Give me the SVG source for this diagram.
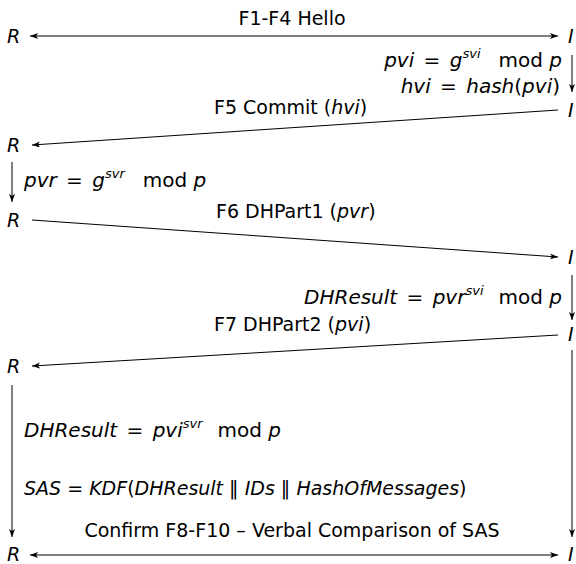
<svg xmlns="http://www.w3.org/2000/svg" width="576" height="564" viewBox="0 0 576 564">
<style>
text { font-family: "DejaVu Sans", "Open Sans", sans-serif; font-size: 19px; fill: #000; }
.m { font-size: 20px; }
.i { font-style: italic; }
.s { font-size: 13px; font-style: italic; }
.c line { stroke: #000; stroke-width: 1; fill: none; }
</style>
<defs>
<marker id="ah" markerWidth="9" markerHeight="7" refX="8" refY="3" orient="auto-start-reverse" markerUnits="userSpaceOnUse">
<path d="M0,0 L8,3 L0,6 L2,3 z" fill="#000"/>
</marker>
</defs>
<rect width="576" height="564" fill="#fff"/>

<g id="R1"><text x="7" y="43" class="i">R</text></g>
<g id="I1"><text x="568" y="43" class="i">I</text></g>
<g id="I2"><text x="568" y="117" class="i">I</text></g>
<g id="R2"><text x="7" y="152" class="i">R</text></g>
<g id="R3"><text x="7" y="227" class="i">R</text></g>
<g id="I3"><text x="568" y="264" class="i">I</text></g>
<g id="I4"><text x="568" y="341" class="i">I</text></g>
<g id="R4"><text x="7" y="373" class="i">R</text></g>
<g id="R5"><text x="7" y="561" class="i">R</text></g>
<g id="I5"><text x="568" y="561" class="i">I</text></g>

<g id="labels">
<text x="292" y="25" text-anchor="middle">F1-F4 Hello</text>
<text x="214" y="114"><tspan>F5 Commit (</tspan><tspan class="i">hvi</tspan><tspan>)</tspan></text>
<text x="216" y="218"><tspan>F6 DHPart1 (</tspan><tspan class="i">pvr</tspan><tspan>)</tspan></text>
<text x="214" y="331"><tspan>F7 DHPart2 (</tspan><tspan class="i">pvi</tspan><tspan>)</tspan></text>
<text x="292" y="537" text-anchor="middle">Confirm F8-F10 – Verbal Comparison of SAS</text>
</g>

<g id="formulas">
<text class="m" x="562" y="67" text-anchor="end"><tspan class="i">pvi</tspan><tspan dx="3"> = </tspan><tspan class="i" dx="3">g</tspan><tspan class="s" dy="-9">svi</tspan><tspan dy="9" dx="18">mod </tspan><tspan class="i">p</tspan></text>
<text class="m" x="560" y="93" text-anchor="end"><tspan class="i">hvi</tspan><tspan dx="3"> = </tspan><tspan class="i" dx="3">hash</tspan>(<tspan class="i">pvi</tspan>)</text>
<text class="m" x="24" y="187"><tspan class="i">pvr</tspan><tspan dx="3"> = </tspan><tspan class="i" dx="3">g</tspan><tspan class="s" dy="-9">svr</tspan><tspan dy="9" dx="18">mod </tspan><tspan class="i">p</tspan></text>
<text class="m" x="562" y="304" text-anchor="end"><tspan class="i">DHResult</tspan><tspan dx="3"> = </tspan><tspan class="i" dx="3">pvr</tspan><tspan class="s" dy="-9">svi</tspan><tspan dy="9" dx="15">mod </tspan><tspan class="i">p</tspan></text>
<text class="m" x="24" y="437"><tspan class="i">DHResult</tspan><tspan dx="3"> = </tspan><tspan class="i" dx="3">pvi</tspan><tspan class="s" dy="-9">svr</tspan><tspan dy="9" dx="15">mod </tspan><tspan class="i">p</tspan></text>
<text x="24" y="495"><tspan class="i">SAS</tspan> = <tspan class="i">KDF</tspan>(<tspan class="i">DHResult</tspan> ‖ <tspan class="i">IDs</tspan> ‖ <tspan class="i">HashOfMessages</tspan>)</text>
</g>

<g id="connectors" class="c">
<line x1="30" y1="36" x2="558" y2="36" marker-start="url(#ah)" marker-end="url(#ah)"/>
<line x1="572" y1="55" x2="572" y2="92" marker-end="url(#ah)"/>
<line x1="558" y1="110" x2="32" y2="145" marker-end="url(#ah)"/>
<line x1="12" y1="162" x2="12" y2="202" marker-end="url(#ah)"/>
<line x1="32" y1="220" x2="558" y2="257" marker-end="url(#ah)"/>
<line x1="572" y1="275" x2="572" y2="320" marker-end="url(#ah)"/>
<line x1="558" y1="335" x2="32" y2="366" marker-end="url(#ah)"/>
<line x1="12" y1="385" x2="12" y2="537" marker-end="url(#ah)"/>
<line x1="572" y1="350" x2="572" y2="537" marker-end="url(#ah)"/>
<line x1="30" y1="555" x2="558" y2="555" marker-start="url(#ah)" marker-end="url(#ah)"/>
</g>
</svg>
